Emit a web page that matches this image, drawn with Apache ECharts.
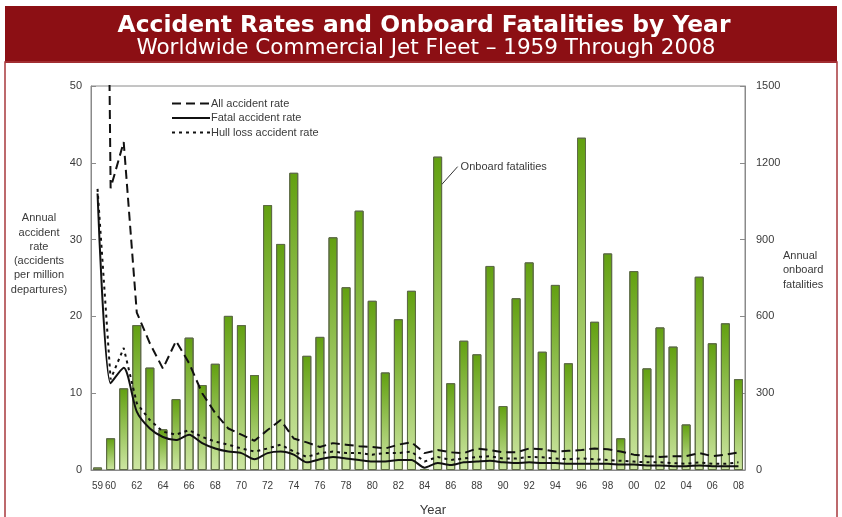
<!DOCTYPE html>
<html><head><meta charset="utf-8">
<script src="https://cdn.jsdelivr.net/npm/echarts@6/dist/echarts.min.js"></script>
<style>html,body{margin:0;padding:0;background:#fff}#c{width:842px;height:517px}</style>
</head><body><div id="c"></div>
<script>
const years = ['59','60','61','62','63','64','65','66','67','68','69','70','71','72','73','74','75','76','77','78','79','80','81','82','83','84','85','86','87','88','89','90','91','92','93','94','95','96','97','98','99','00','01','02','03','04','05','06','07','08'];
const fatalities = [10,124,319,566,400,159,277,517,332,415,602,566,371,1035,883,1161,446,520,909,714,1013,661,381,589,700,4,1224,339,505,452,797,250,671,811,462,723,417,1298,579,846,124,777,397,557,482,178,755,495,573,355];
const allRate = [200,36.7,42.7,20.5,16.5,13.2,16.8,13.9,10.0,7.4,5.4,4.6,3.8,5.2,6.5,4.1,3.6,3.0,3.5,3.3,3.1,3.0,2.8,3.3,3.6,2.2,2.6,2.3,2.2,2.8,2.6,2.3,2.3,2.8,2.7,2.4,2.5,2.6,2.8,2.7,2.4,2.0,1.8,1.7,1.8,1.8,2.2,1.8,2.0,2.3];
const fatalRate = [36.0,11.3,13.3,7.6,5.4,4.3,3.9,4.6,3.5,2.8,2.4,2.2,1.4,2.2,2.4,2.0,1.0,1.4,1.7,1.5,1.3,1.1,1.1,1.3,1.3,0.3,0.9,0.65,1.0,1.1,1.2,1.0,0.9,1.0,0.9,0.9,0.8,0.8,0.8,0.8,0.7,0.7,0.6,0.6,0.5,0.5,0.6,0.5,0.5,0.5];
const hullRate = [36.6,11.8,15.9,8.7,6.5,5.0,4.6,5.2,4.3,3.7,3.3,2.8,2.4,2.8,3.3,2.4,1.7,2.2,2.4,2.2,2.2,2.0,2.2,2.2,2.4,1.1,1.7,1.3,1.5,1.7,1.8,1.5,1.5,1.7,1.65,1.5,1.4,1.5,1.4,1.3,1.2,1.1,1.0,1.0,0.9,0.8,1.0,0.8,0.8,1.0];
const leftTicks = [0,10,20,30,40,50];
const rightTicks = [0,300,600,900,1200,1500];

const chart = echarts.init(document.getElementById('c'));
const labFont = 'Liberation Sans';
const txtColor = '#3a3a3a';
const option = {
  animation:false,
  backgroundColor:'#fff',
  grid:{left:91,right:97,top:86,bottom:47,show:true,borderColor:'#8a8a8a',borderWidth:1},
  legend:{
    data:['All accident rate','Fatal accident rate','Hull loss accident rate'],
    orient:'vertical',left:166,top:93,itemWidth:38,itemHeight:12,itemGap:3.5,
    itemStyle:{opacity:0,borderWidth:0},
    textStyle:{fontFamily:labFont,fontSize:11,color:txtColor,padding:[0,0,0,-4]}
  },
  xAxis:{type:'category',data:years,
    axisLine:{lineStyle:{color:'#8a8a8a'}},axisTick:{show:false},
    axisLabel:{interval:function(i){return i===0||i%2===1;},fontFamily:labFont,fontSize:10,color:txtColor,margin:11}},
  yAxis:[
    {type:'value',min:leftTicks[0],max:leftTicks[leftTicks.length-1],interval:10,splitLine:{show:false},
     axisLine:{show:true,lineStyle:{color:'#8a8a8a'}},axisTick:{show:true,inside:true,length:5,lineStyle:{color:'#8a8a8a'}},
     axisLabel:{fontFamily:labFont,fontSize:11,color:txtColor,margin:9}},
    {type:'value',min:rightTicks[0],max:rightTicks[rightTicks.length-1],interval:300,splitLine:{show:false},
     axisLine:{show:true,lineStyle:{color:'#8a8a8a'}},axisTick:{show:true,inside:true,length:5,lineStyle:{color:'#8a8a8a'}},
     axisLabel:{fontFamily:labFont,fontSize:11,color:txtColor,margin:11,formatter:function(v){return String(v);}}}
  ],
  series:[
    {name:'Onboard fatalities',type:'bar',yAxisIndex:1,data:fatalities,barWidth:9,z:1,
     itemStyle:{borderColor:'#5d6b45',borderWidth:1,
       color:new echarts.graphic.LinearGradient(0,0,0,1,[{offset:0,color:'#62a010'},{offset:1,color:'#cde6a2'}])}},
    {name:'All accident rate',type:'line',yAxisIndex:0,data:allRate,symbol:'none',clip:true,z:3,
     lineStyle:{color:'#111',width:2,type:[9,5]},itemStyle:{color:'#111'}},
    {name:'Fatal accident rate',type:'line',yAxisIndex:0,data:fatalRate,symbol:'none',clip:true,z:3,smooth:0.25,
     lineStyle:{color:'#111',width:2},itemStyle:{color:'#111'}},
    {name:'Hull loss accident rate',type:'line',yAxisIndex:0,data:hullRate,symbol:'none',clip:true,z:3,
     lineStyle:{color:'#111',width:2,type:[3,4]},itemStyle:{color:'#111'}}
  ],
  graphic:[
    {type:'rect',shape:{x:5,y:6,width:832,height:57},style:{fill:'#8c0f14'},silent:true},
    {type:'rect',shape:{x:5,y:62,width:832,height:470},style:{fill:'none',stroke:'#a8383c',lineWidth:1.5},silent:true},
    {type:'text',x:424,y:26,style:{text:'Accident Rates and Onboard Fatalities by Year',fill:'#fff',font:'bold 23.4px "DejaVu Sans"',textAlign:'center',textVerticalAlign:'middle'}},
    {type:'text',x:426,y:48.5,style:{text:'Worldwide Commercial Jet Fleet – 1959 Through 2008',fill:'#fff',font:'21.5px "DejaVu Sans"',textAlign:'center',textVerticalAlign:'middle'}},
    {type:'text',x:39,y:254,style:{text:'Annual\naccident\nrate\n(accidents\nper million\ndepartures)',fill:txtColor,font:'11px "Liberation Sans"',lineHeight:14.3,textAlign:'center',textVerticalAlign:'middle'}},
    {type:'text',x:783,y:270,style:{text:'Annual\nonboard\nfatalities',fill:txtColor,font:'11px "Liberation Sans"',lineHeight:14.5,textAlign:'left',textVerticalAlign:'middle'}},
    {type:'text',x:433,y:510,style:{text:'Year',fill:txtColor,font:'13px "Liberation Sans"',textAlign:'center',textVerticalAlign:'middle'}}
  ]
};
chart.setOption(option);
// Annotation attached to the 1985 bar
const idx = years.indexOf('85');
const p = chart.convertToPixel({xAxisIndex:0,yAxisIndex:1},[idx,fatalities[idx]]);
chart.setOption({graphic:option.graphic.concat([
  {type:'line',shape:{x1:p[0]+4,y1:p[1]+28,x2:p[0]+20,y2:p[1]+10},style:{stroke:'#333',lineWidth:1}},
  {type:'text',x:p[0]+23,y:p[1]+10,style:{text:'Onboard fatalities',fill:txtColor,font:'11px "Liberation Sans"',textAlign:'left',textVerticalAlign:'middle'}}
])});
</script></body></html>
